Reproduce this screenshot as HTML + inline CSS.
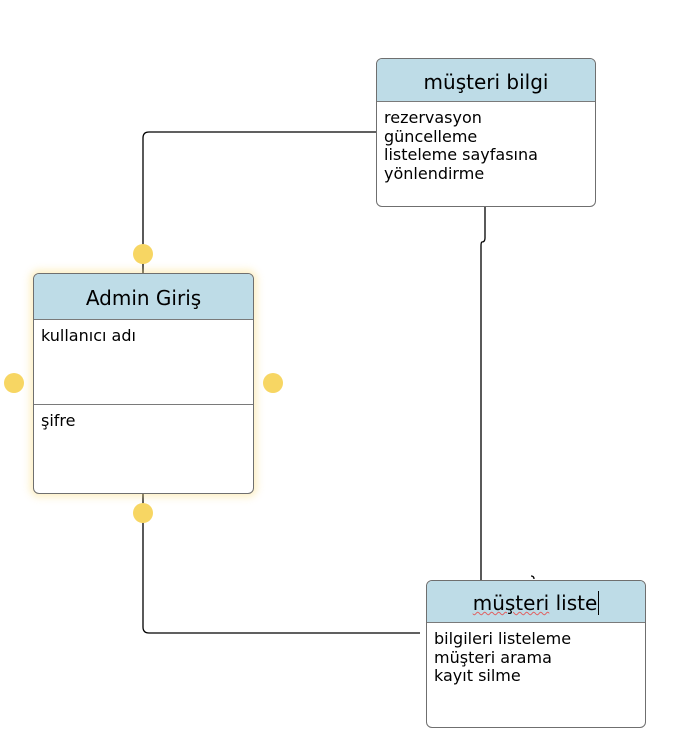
<!DOCTYPE html>
<html><head><meta charset="utf-8"><style>
body{margin:0;width:679px;height:751px;background:#fff;position:relative;overflow:hidden;font-family:"DejaVu Sans","Liberation Sans",sans-serif;color:#000}
.box{position:absolute;border:1px solid #6f6f6f;border-radius:6px;background:#fff;overflow:hidden;box-sizing:border-box}
.hd{background:#bedce7;border-bottom:1px solid #7a7a7a;text-align:center;font-size:20px;box-sizing:border-box}
.bd{font-size:16px;line-height:18.5px;padding:7px 7px}
.dot{position:absolute;width:20px;height:20px;border-radius:50%;background:#f7d663}
</style></head><body>
<svg width="679" height="751" style="position:absolute;left:0;top:0">
<g fill="none" stroke="#000" stroke-width="1.3">
<path d="M376 132 H149 Q143 132 143 138 V273"/>
<path d="M143 494 V627 Q143 633 149 633 H420"/>
<path d="M485 207 V238 Q485 242 482 242 Q481 242 481 246 V580"/>
<path d="M531 576 Q534 576 534 579"/>
</g>
</svg>
<div class="box" style="left:33px;top:273px;width:221px;height:221px;box-shadow:0 0 8px 3px rgba(250,220,120,.45)">
<div class="hd" style="height:46px;line-height:48px">Admin Giriş</div>
<div class="bd" style="height:85px;border-bottom:1px solid #7a7a7a;box-sizing:border-box">kullanıcı adı</div>
<div class="bd">şifre</div>
</div>
<div class="box" style="left:376px;top:58px;width:220px;height:149px">
<div class="hd" style="height:43px;line-height:46px">müşteri bilgi</div>
<div class="bd">rezervasyon<br>güncelleme<br>listeleme sayfasına<br>yönlendirme</div>
</div>
<div class="box" style="left:426px;top:580px;width:220px;height:148px">
<div class="hd" style="height:42px;line-height:45px"><span style="text-decoration:underline wavy #e06060;text-decoration-thickness:1px">müşteri</span> liste<span style="border-left:1.5px solid #000;margin-left:1px"></span></div>
<div class="bd">bilgileri listeleme<br>müşteri arama<br>kayıt silme</div>
</div>
<div class="dot" style="left:133px;top:244px"></div>
<div class="dot" style="left:133px;top:503px"></div>
<div class="dot" style="left:4px;top:373px"></div>
<div class="dot" style="left:263px;top:373px"></div>
</body></html>
